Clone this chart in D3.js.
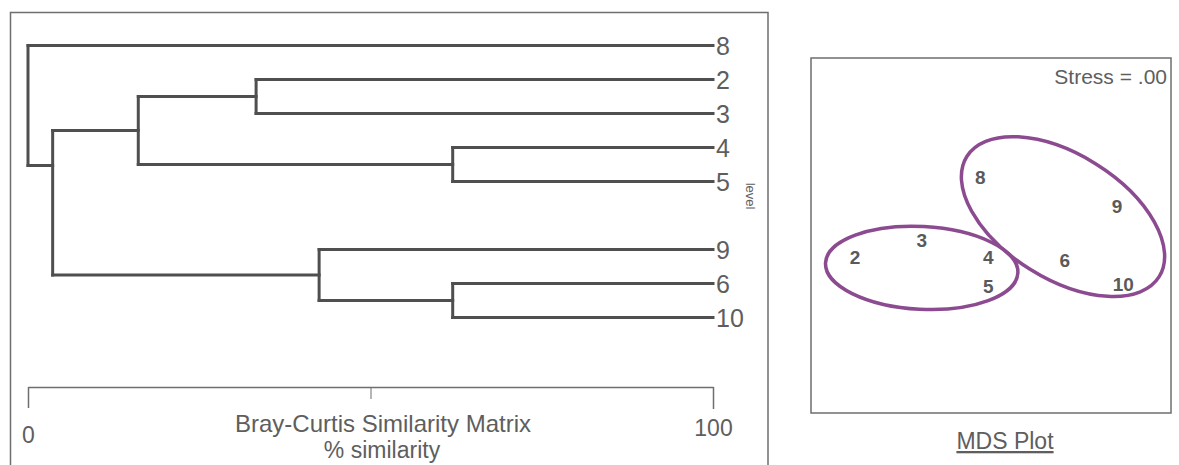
<!DOCTYPE html>
<html>
<head>
<meta charset="utf-8">
<script src="https://cdn.jsdelivr.net/npm/d3@7"></script>
<style>
  html, body { margin: 0; padding: 0; background: #ffffff; }
  svg { display: block; font-family: "Liberation Sans", Arial, Helvetica, sans-serif; }
</style>
</head>
<body>
<svg id="chart" width="1179" height="465"></svg>
<script>
// ---------------- DATA ----------------
// Dendrogram leaves (top to bottom) and their row slots
const leafNames = ["8", "2", "3", "4", "5", "9", "6", "10"];
const leafRows  = [0, 1, 2, 3, 4, 6, 7, 8];
// Merges: node id, two children, % similarity at which they join
const mergeIds   = ["A", "B", "C", "D", "E", "F", "G"];
const mergeLeft  = ["2", "4", "A", "6", "9", "C", "8"];
const mergeRight = ["3", "5", "B", "10", "D", "E", "F"];
const mergeSim   = [33.3, 62.0, 16.1, 62.0, 42.5, 3.6, 0.0];
// row at which a cluster's stem joins its parent (only where it differs from the mid-row)
const joinRowOverride = { F: 3.53 };
// Similarity axis
const simTicks = [0, 50, 100];
const simTickLabels = ["0", "", "100"];
const axisTitle1 = "Bray-Curtis Similarity Matrix";
const axisTitle2 = "% similarity";
const sideLabel = "level";

// MDS ordination
const mdsLabels = ["8", "9", "3", "2", "4", "6", "5", "10"];
const mdsX      = [-0.12, 1.40, -0.77, -1.51, -0.03, 0.82, -0.03, 1.47];
const mdsY      = [0.65, 0.33, -0.05, -0.24, -0.24, -0.27, -0.56, -0.54];
// group ellipses: centre, semi-axes (MDS units), rotation (degrees)
const ellCx  = [-0.77, 0.80];
const ellCy  = [-0.36, 0.21];
const ellRx  = [1.07, 1.26];
const ellRy  = [0.46, 0.69];
const ellRot = [3, 32];
const stressText = "Stress = .00";
const mdsTitle = "MDS Plot";

// ---------------- DRAW ----------------
const svg = d3.select("#chart");
const lineCol = "#4f4f4f";
const textCol = "#5e5e5e";
const frameCol = "#6e6e6e";

// ---- Left panel frame ----
svg.append("rect")
  .attr("x", 10.5).attr("y", 12.5).attr("width", 757.5).attr("height", 470)
  .attr("fill", "none").attr("stroke", frameCol).attr("stroke-width", 1.5);

const x = d3.scaleLinear().domain([0, 100]).range([28, 713]);
const y = d3.scaleLinear().domain([0, 8]).range([45.5, 317.5]);

// build node lookup
const nodes = {};
leafNames.forEach((n, i) => { nodes[n] = { id: n, sim: 100, row: leafRows[i], joinRow: leafRows[i], leaf: true }; });
mergeIds.forEach((id, i) => {
  const l = nodes[mergeLeft[i]], r = nodes[mergeRight[i]];
  const row = (l.joinRow + r.joinRow) / 2;
  nodes[id] = { id, sim: mergeSim[i], left: l, right: r, row, leaf: false,
                joinRow: joinRowOverride[id] !== undefined ? joinRowOverride[id] : row };
});

const dendro = svg.append("g");
const segs = [];
mergeIds.forEach(id => {
  const nd = nodes[id];
  [nd.left, nd.right].forEach(ch => {
    segs.push({ x1: x(nd.sim), y1: y(ch.joinRow), x2: x(ch.sim), y2: y(ch.joinRow) });
  });
  segs.push({ x1: x(nd.sim), y1: y(nd.left.joinRow), x2: x(nd.sim), y2: y(nd.right.joinRow) });
});
dendro.selectAll("line").data(segs).join("line")
  .attr("x1", d => d.x1).attr("y1", d => d.y1)
  .attr("x2", d => d.x2).attr("y2", d => d.y2)
  .attr("stroke", lineCol).attr("stroke-width", 3).attr("stroke-linecap", "square");

// leaf labels
dendro.selectAll("text.leaf").data(leafNames).join("text")
  .attr("class", "leaf")
  .attr("x", x(100) + 3)
  .attr("y", (d, i) => y(leafRows[i]))
  .attr("dy", "0.38em")
  .attr("font-size", 25)
  .attr("fill", textCol)
  .text(d => d);

// side "level" label
svg.append("text")
  .attr("transform", "translate(746,196) rotate(90)")
  .attr("text-anchor", "middle")
  .attr("font-size", 13)
  .attr("fill", textCol)
  .text(sideLabel);

// axis
const tickLen = [21, 12, 22];
const axis = d3.axisBottom(x).tickValues(simTicks).tickSizeOuter(0)
  .tickFormat((d, i) => simTickLabels[i]);
const ag = svg.append("g").attr("transform", "translate(0,387)").call(axis);
ag.select(".domain").attr("stroke", frameCol).attr("stroke-width", 1.5);
ag.selectAll(".tick line")
  .attr("y2", (d, i) => tickLen[i])
  .attr("stroke", frameCol)
  .attr("stroke-width", (d, i) => i === 1 ? 1 : 1.5);
ag.selectAll(".tick text")
  .attr("y", (d, i) => i === 0 ? 48 : 41)
  .attr("dy", "0.35em")
  .attr("font-size", 23)
  .attr("font-family", "Liberation Sans, Arial, sans-serif")
  .attr("fill", textCol);

svg.append("text")
  .attr("x", 383).attr("y", 432)
  .attr("text-anchor", "middle").attr("font-size", 24).attr("fill", textCol)
  .text(axisTitle1);
svg.append("text")
  .attr("x", 382).attr("y", 458)
  .attr("text-anchor", "middle").attr("font-size", 23).attr("fill", textCol)
  .text(axisTitle2);

// ---- MDS panel ----
const L = 811, R = 1171, T = 58, B = 413;
const k = (R - L) / 4;
const half = (B - T) / 2 / k;
const mx = d3.scaleLinear().domain([-2, 2]).range([L, R]);
const my = d3.scaleLinear().domain([-half, half]).range([B, T]);

svg.append("rect")
  .attr("x", L).attr("y", T).attr("width", R - L).attr("height", B - T)
  .attr("fill", "none").attr("stroke", frameCol).attr("stroke-width", 1.5);

svg.append("text")
  .attr("x", R - 4).attr("y", 84)
  .attr("text-anchor", "end").attr("font-size", 21).attr("fill", textCol)
  .text(stressText);

const ell = svg.append("g");
ell.selectAll("ellipse").data(ellCx).join("ellipse")
  .attr("transform", (d, i) => `translate(${mx(ellCx[i])},${my(ellCy[i])}) rotate(${ellRot[i]})`)
  .attr("rx", (d, i) => mx(ellRx[i]) - mx(0))
  .attr("ry", (d, i) => my(0) - my(ellRy[i]))
  .attr("fill", "none")
  .attr("stroke", "#8c4b90")
  .attr("stroke-width", 3.5);

svg.append("g").selectAll("text").data(mdsLabels).join("text")
  .attr("x", (d, i) => mx(mdsX[i]))
  .attr("y", (d, i) => my(mdsY[i]))
  .attr("dy", "0.36em")
  .attr("text-anchor", "middle")
  .attr("font-size", 19)
  .attr("font-weight", "bold")
  .attr("fill", "#5a5a5a")
  .text(d => d);

svg.append("text")
  .attr("x", 1005).attr("y", 449)
  .attr("text-anchor", "middle").attr("font-size", 23).attr("fill", textCol)
  .attr("text-decoration", "underline")
  .text(mdsTitle);
</script>
</body>
</html>
